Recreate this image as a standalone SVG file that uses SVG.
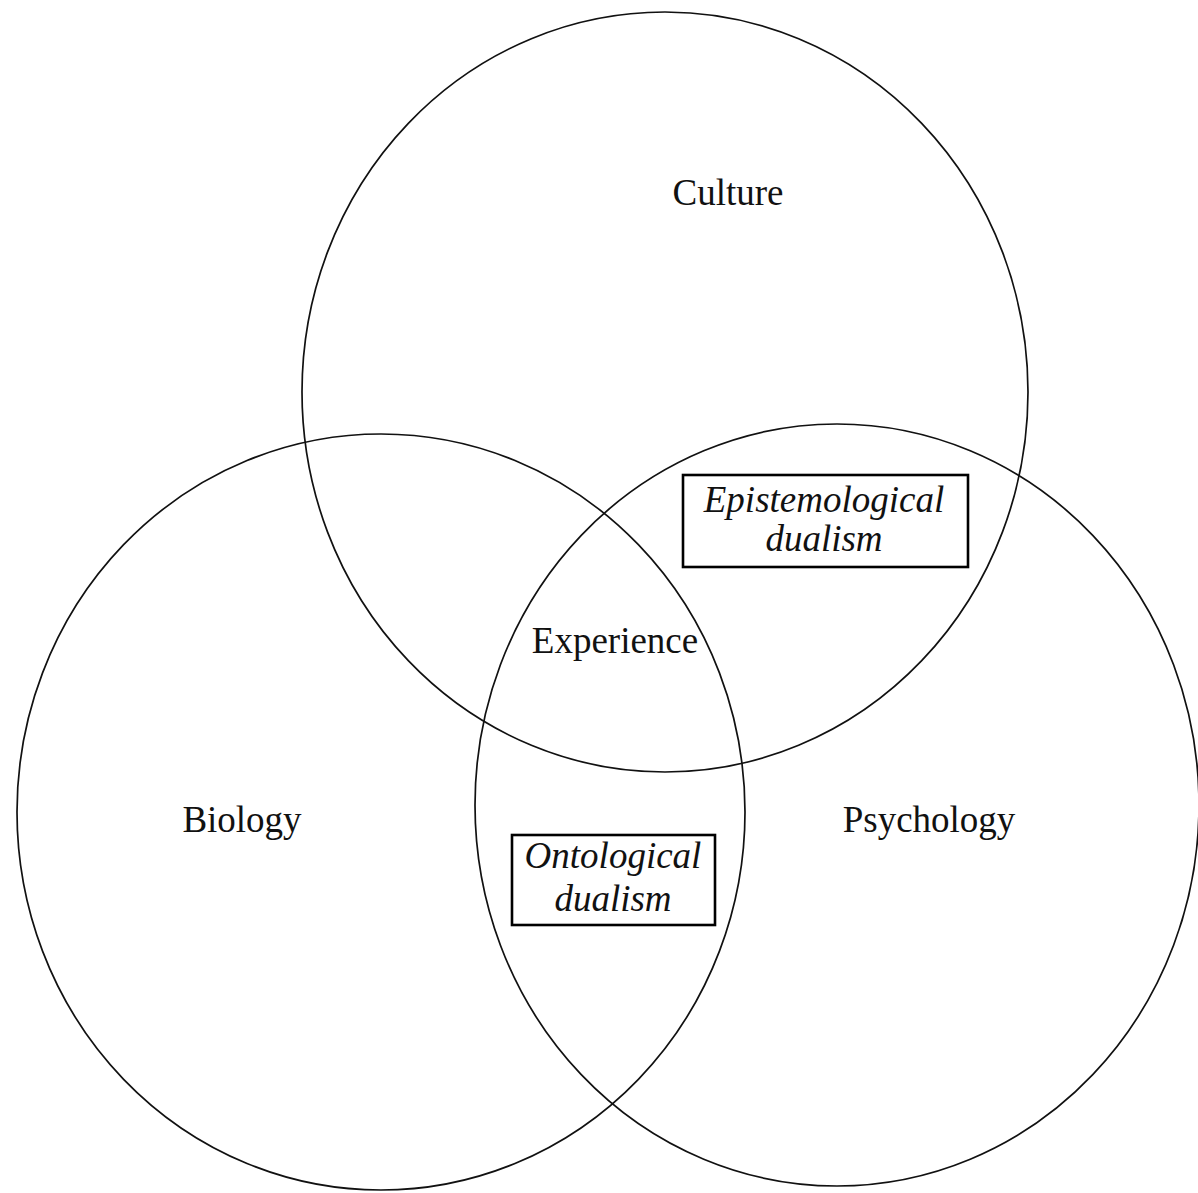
<svg xmlns="http://www.w3.org/2000/svg" width="1198" height="1193" viewBox="0 0 1198 1193">
  <style>
    .ring { fill: none; stroke: #111; stroke-width: 1.7; }
    .box { fill: #fff; stroke: #000; stroke-width: 2.6; }
    .lbl { font-family: "Liberation Serif", "Times New Roman", serif; font-size: 37px; fill: #111; text-anchor: middle; }
    .it { font-style: italic; }
  </style>
  <rect width="1198" height="1193" fill="#fff"/>
  <g id="culture">
    <ellipse class="ring" cx="665" cy="392" rx="363" ry="380"/>
    <text class="lbl" x="728" y="205">Culture</text>
  </g>
  <g id="biology">
    <ellipse class="ring" cx="381" cy="812" rx="364" ry="378"/>
    <text class="lbl" x="242" y="832">Biology</text>
  </g>
  <g id="psychology">
    <ellipse class="ring" cx="837" cy="805" rx="362" ry="381"/>
    <text class="lbl" x="929" y="832">Psychology</text>
  </g>
  <g id="experience">
    <text class="lbl" x="615" y="653">Experience</text>
  </g>
  <g id="epistemological-dualism">
    <rect class="box" x="683" y="475" width="285" height="92"/>
    <text class="lbl it" x="824" y="512">Epistemological</text>
    <text class="lbl it" x="824" y="551">dualism</text>
  </g>
  <g id="ontological-dualism">
    <rect class="box" x="512" y="835" width="203" height="90"/>
    <text class="lbl it" x="613" y="868">Ontological</text>
    <text class="lbl it" x="613" y="911">dualism</text>
  </g>
  <g id="connectors"></g>
</svg>
